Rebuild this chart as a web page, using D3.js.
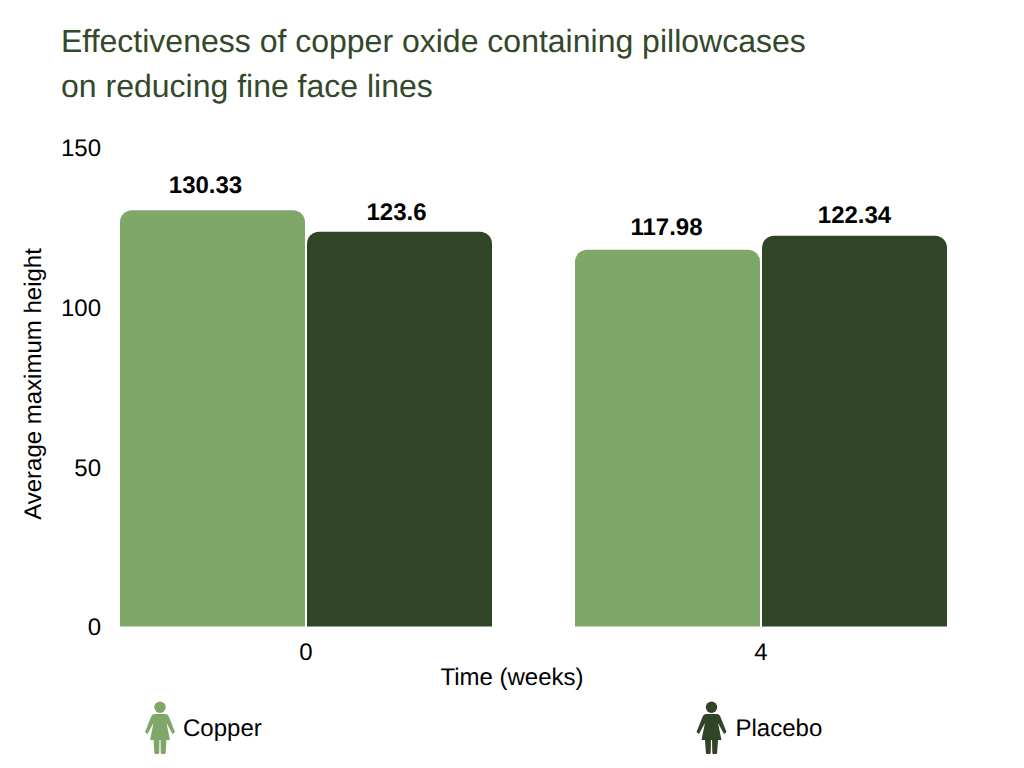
<!DOCTYPE html>
<html><head><meta charset="utf-8"><script src="https://cdnjs.cloudflare.com/ajax/libs/d3/7.8.5/d3.min.js"></script>
<style>html,body{margin:0;padding:0;background:#fff}svg{display:block}text{font-family:"Liberation Sans",Arial,sans-serif;text-rendering:geometricPrecision}</style></head>
<body><svg id="c" width="1024" height="768"></svg>
<script>
const titleLines=["Effectiveness of copper oxide containing pillowcases","on reducing fine face lines"];
const times=["0","4"];
const seriesNames=["Copper","Placebo"];
const copper=[130.33,117.98];
const placebo=[123.6,122.34];
const valueLabels=[["130.33","117.98"],["123.6","122.34"]];
const yTicks=[0,50,100,150];
const colors=["#7fa868","#304526"];
const titleColor="#34482a";
const labelDx=[[-7,-1],[-3,0]];
const labelDy=[[0,2],[5,4]];

const svg=d3.select("#c");
const x0=d3.scaleBand().domain(times).range([79,988]).paddingInner(83/455).paddingOuter(41/455);
const x1=d3.scaleBand().domain(seriesNames).range([0,x0.bandwidth()]).paddingInner(2/187);
const y=d3.scaleLinear().domain([0,150]).range([626.5,147.5]);
function barPath(x,w,yt,yb,r){
  return `M${x},${yb}V${yt+r}A${r},${r} 0 0 1 ${x+r},${yt}H${x+w-r}A${r},${r} 0 0 1 ${x+w},${yt+r}V${yb}Z`;
}
svg.selectAll(".title").data(titleLines).join("text").attr("class","title")
  .attr("x",61).attr("y",(d,i)=>52+i*44.5).attr("fill",titleColor)
  .attr("font-size",32).text(d=>d);
[copper,placebo].forEach((vals,s)=>{
  const g=svg.append("g");
  g.selectAll("path").data(vals).join("path")
    .attr("fill",colors[s])
    .attr("d",(v,i)=>barPath(x0(times[i])+x1(seriesNames[s]),x1.bandwidth(),y(v),y(0),12));
  g.selectAll("text").data(vals).join("text")
    .attr("x",(v,i)=>x0(times[i])+x1(seriesNames[s])+x1.bandwidth()/2+labelDx[s][i])
    .attr("y",(v,i)=>y(v)-17+labelDy[s][i]).attr("text-anchor","middle")
    .attr("font-size",24).attr("font-weight","bold").attr("fill","#000")
    .text((v,i)=>valueLabels[s][i]);
});
const yAxis=d3.axisLeft(y).tickValues(yTicks).tickSize(0).tickPadding(0).tickFormat(d3.format("d"));
const gy=svg.append("g").attr("transform","translate(101,0.5)").call(yAxis);
gy.select(".domain").remove();
gy.selectAll("text").attr("font-size",24).attr("fill","#000").style("font-family",'"Liberation Sans"');
const xAxis=d3.axisBottom(x0).tickSize(0).tickPadding(0);
const gx=svg.append("g").attr("transform","translate(0,643)").call(xAxis);
gx.select(".domain").remove();
gx.selectAll("text").attr("font-size",24).attr("fill","#000").style("font-family",'"Liberation Sans"');
svg.append("text").attr("x",512).attr("y",685).attr("text-anchor","middle").attr("font-size",24).attr("fill","#000").text("Time (weeks)");
svg.append("text").attr("transform","translate(41,384) rotate(-90)").attr("text-anchor","middle").attr("font-size",24).attr("fill","#000").text("Average maximum height");
// legend icons
const icon="M-5,-12 H5 Q8,-12 9,-9 L15,6 L12.5,8 L6.5,-3 L10,14 H6.5 L5.6,27 Q5.5,28 4.5,28 H2 Q1,28 .8,27 L.5,14 H-.5 L-.8,27 Q-1,28 -2,28 H-4.5 Q-5.5,28 -5.6,27 L-6.5,14 H-10 L-6.5,-3 L-12.5,8 L-15,6 L-9,-9 Q-8,-12 -5,-12Z";
const legendX=[160,711.5], legendTextX=[183,735.5];
seriesNames.forEach((n,i)=>{
  const g=svg.append("g").attr("transform",`translate(${legendX[i]},726)`).attr("fill",colors[i]);
  g.append("circle").attr("cy",-18.7).attr("r",5.7);
  g.append("path").attr("d",icon);
  svg.append("text").attr("x",legendTextX[i]).attr("y",736).attr("font-size",24).attr("fill","#000").text(n);
});
</script></body></html>
